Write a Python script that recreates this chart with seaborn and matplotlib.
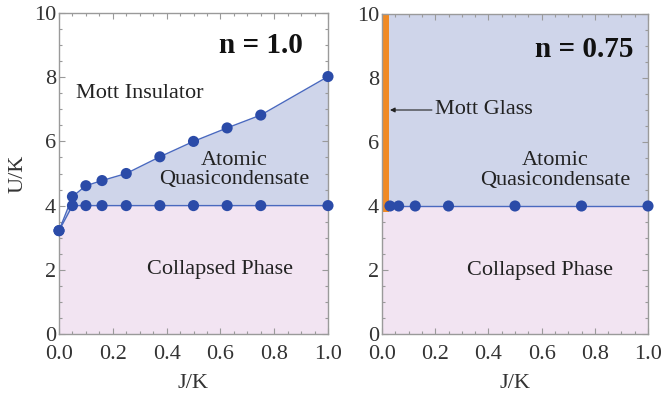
import numpy as np
import pandas as pd
import matplotlib
matplotlib.use("Agg")
import matplotlib.pyplot as plt
import seaborn as sns
from matplotlib.ticker import MultipleLocator

# ---- data ----
jk_left = [0.0, 0.05, 0.1, 0.16, 0.25, 0.375, 0.5, 0.625, 0.75, 1.0]
upper_left = [3.22, 4.28, 4.62, 4.78, 5.0, 5.52, 6.0, 6.42, 6.82, 8.02]
lower_left = [3.22, 4.0, 4.0, 4.0, 4.0, 4.0, 4.0, 4.0, 4.0, 4.0]

jk_right = [0.03, 0.0625, 0.125, 0.25, 0.5, 0.75, 1.0]
lower_right = [4.0, 4.0, 4.0, 4.0, 4.0, 4.0, 4.0]
mott_glass_j = [0.0, 0.025]
mott_glass_u = [3.8, 10.0]

xticks = [0.0, 0.2, 0.4, 0.6, 0.8, 1.0]
xticklabels = ["0.0", "0.2", "0.4", "0.6", "0.8", "1.0"]
yticks = [0, 2, 4, 6, 8, 10]

sns.set_style("ticks")
plt.rcParams['font.family'] = ['Liberation Serif', 'DejaVu Serif']

BLUE_FILL = "#cfd5ea"
PINK_FILL = "#f2e4f2"
MARK = "#2b4ba8"
LINE = "#4a69bf"
ORANGE = "#f08a24"
FRAME = "#9a9a9a"
TXT = "#222222"
FS = 16

fig = plt.figure(figsize=(6.61, 4.01), dpi=100)
axL = fig.add_axes([59/661, 67/401, 269/661, 321/401])
axR = fig.add_axes([382/661, 67/401, 266/661, 320/401])

def style(ax):
    ax.set_xlim(0, 1)
    ax.set_ylim(0, 10)
    ax.set_xticks(xticks)
    ax.set_xticklabels(xticklabels)
    ax.set_yticks(yticks)
    ax.xaxis.set_minor_locator(MultipleLocator(0.05))
    ax.yaxis.set_minor_locator(MultipleLocator(0.5))
    ax.tick_params(which='both', direction='in', top=True, right=True,
                   color=FRAME, labelsize=FS, labelcolor="#333333", width=0.8)
    ax.tick_params(which='major', length=4)
    ax.tick_params(which='minor', length=2)
    ax.tick_params(axis='x', pad=8)
    ax.tick_params(axis='y', pad=2)
    for s in ax.spines.values():
        s.set_color(FRAME)
        s.set_linewidth(1.0)
    ax.set_xlabel("J/K", fontsize=FS, color="#333333", labelpad=7)

# ---- left panel ----
df_L = pd.DataFrame({"J": jk_left, "upper": upper_left, "lower": lower_left})
axL.fill_between(df_L["J"], 0, df_L["lower"], color=PINK_FILL, lw=0, zorder=0)
axL.fill_between(df_L["J"], df_L["lower"], df_L["upper"], color=BLUE_FILL, lw=0, zorder=0)
sns.lineplot(data=df_L, x="J", y="upper", ax=axL, color=LINE, lw=1.0, zorder=2)
sns.lineplot(data=df_L, x="J", y="lower", ax=axL, color=LINE, lw=1.0, zorder=2)
sns.scatterplot(data=df_L, x="J", y="upper", ax=axL, color=MARK, s=64,
                edgecolor="none", zorder=3, clip_on=False)
sns.scatterplot(data=df_L, x="J", y="lower", ax=axL, color=MARK, s=64,
                edgecolor="none", zorder=3, clip_on=False)
style(axL)
axL.set_ylabel("U/K", fontsize=FS, color="#333333", labelpad=5)
axL.text(0.905, 9.0, "n = 1.0", fontsize=21, fontweight='bold', ha='right', va='center', color="#111111")
axL.text(0.30, 7.48, "Mott Insulator", fontsize=FS, ha='center', va='center', color=TXT)
axL.text(0.65, 5.11, "Atomic\nQuasicondensate", fontsize=FS, ha='center', va='center',
         color=TXT, linespacing=1.05)
axL.text(0.60, 2.0, "Collapsed Phase", fontsize=FS, ha='center', va='center', color=TXT)

# ---- right panel ----
df_R = pd.DataFrame({"J": jk_right, "lower": lower_right})
axR.axhspan(0, 4, color=PINK_FILL, lw=0, zorder=0)
axR.axhspan(4, 10, color=BLUE_FILL, lw=0, zorder=0)
axR.fill_between(mott_glass_j, mott_glass_u[0], mott_glass_u[1], color=ORANGE, lw=0, zorder=1)
sns.lineplot(data=df_R, x="J", y="lower", ax=axR, color=LINE, lw=1.0, zorder=2)
sns.scatterplot(data=df_R, x="J", y="lower", ax=axR, color=MARK, s=64,
                edgecolor="none", zorder=3, clip_on=False)
style(axR)
axR.set_ylabel("")
axR.text(0.944, 8.9, "n = 0.75", fontsize=21, fontweight='bold', ha='right', va='center', color="#111111")
axR.annotate("Mott Glass", xy=(0.03, 7.0), xytext=(0.2, 7.0), fontsize=FS, ha='left', va='center',
             color=TXT, arrowprops=dict(arrowstyle='-|>', color='#222222', lw=0.8,
                                        mutation_scale=7, shrinkA=0, shrinkB=0))
axR.text(0.65, 5.11, "Atomic\nQuasicondensate", fontsize=FS, ha='center', va='center',
         color=TXT, linespacing=1.05)
axR.text(0.595, 2.0, "Collapsed Phase", fontsize=FS, ha='center', va='center', color=TXT)

fig.savefig("out.png", dpi=100)
